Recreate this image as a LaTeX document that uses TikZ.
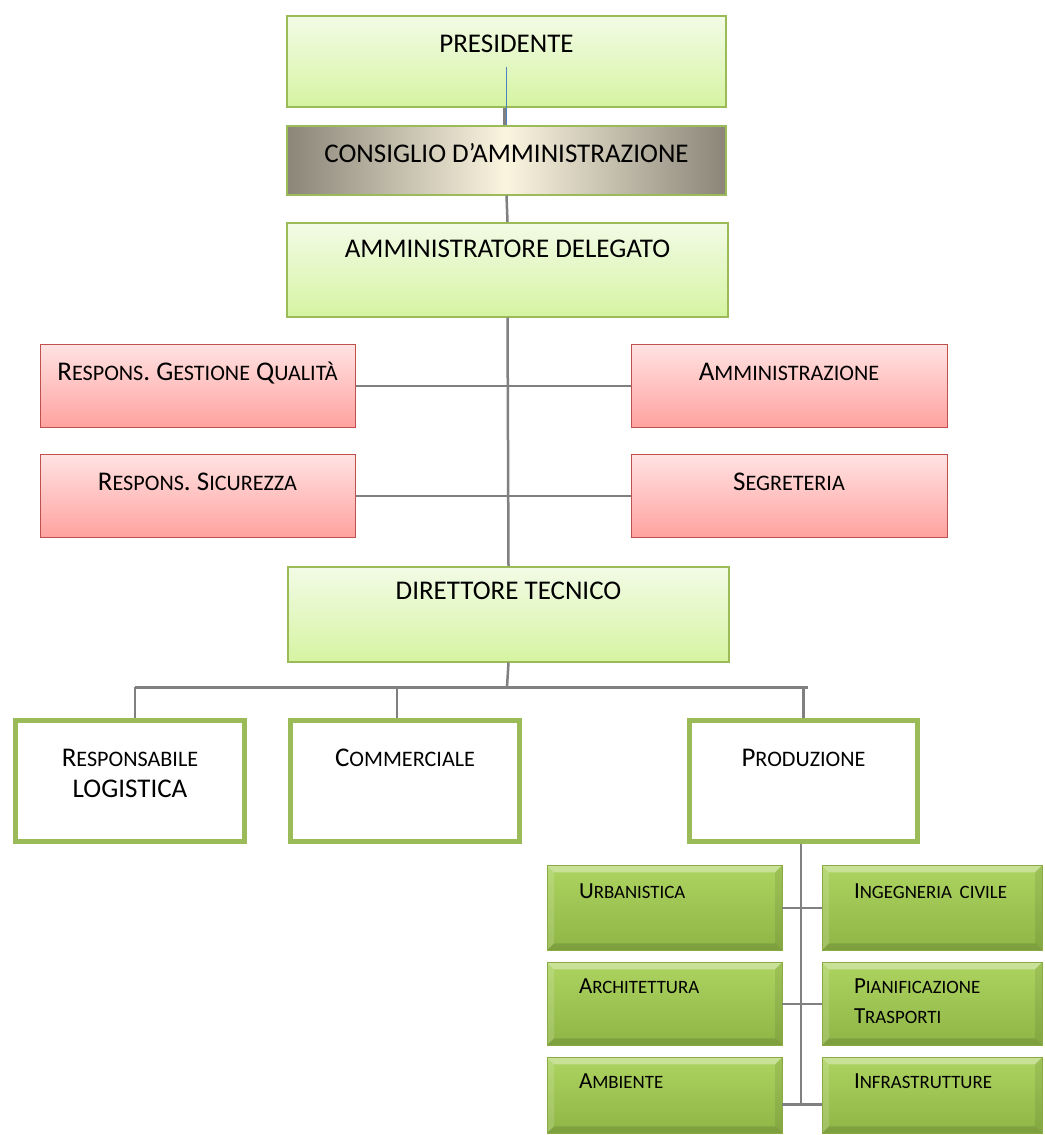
\documentclass[tikz,border=0pt]{standalone}
\usepackage{fontspec}
\setmainfont{Carlito}
\definecolor{boxgreen}{HTML}{9BBB59}
\definecolor{paletop}{HTML}{F2FBE6}
\definecolor{palebot}{HTML}{D6F4A2}
\definecolor{slate}{HTML}{8A8578}
\definecolor{cream}{HTML}{FBF4DF}
\definecolor{boxred}{HTML}{C0504D}
\definecolor{pinktop}{HTML}{FFE2E2}
\definecolor{pinkbot}{HTML}{FFA29F}
\definecolor{leaftop}{HTML}{ADD360}
\definecolor{leafbot}{HTML}{8FB546}
\definecolor{leafedge}{HTML}{8AAA48}
\definecolor{linkgrey}{HTML}{808080}
\definecolor{linkblue}{HTML}{4F81BD}
% fake small capitals (Carlito has none)
\makeatletter
\newcommand\lc[1]{{\fontsize{\fpeval{0.82*\f@size}}{0}\selectfont #1}}
\makeatother

\begin{document}
\begin{tikzpicture}[x=1pt, y=-1pt, font=\fontsize{27}{31}\selectfont]

    \tikzstyle{pale}=[draw=boxgreen, line width=1.5pt, top color=paletop, bottom color=palebot, anchor=north, inner sep=0pt]
    \tikzstyle{shade}=[draw=boxgreen, line width=1.5pt, left color=slate, right color=slate, middle color=cream, anchor=north, inner sep=0pt]
    \tikzstyle{pink}=[draw=boxred, line width=1pt, top color=pinktop, bottom color=pinkbot, anchor=north, inner sep=0pt]
    \tikzstyle{frame}=[draw=boxgreen, line width=5pt, fill=white, anchor=north, inner sep=0pt, align=center]
    \tikzstyle{leaf}=[draw=leafedge, line width=0.8pt, top color=leaftop, bottom color=leafbot, anchor=north, inner ysep=0pt, inner xsep=32pt, align=left, font=\fontsize{23}{30}\selectfont,
        path picture={
          \fill[white, opacity=.35] (path picture bounding box.north west) -- (path picture bounding box.north east)
               -- ([shift={(-7,7)}]path picture bounding box.north east) -- ([shift={(7,7)}]path picture bounding box.north west) -- cycle;
          \fill[white, opacity=.15] (path picture bounding box.north west) -- (path picture bounding box.south west)
               -- ([shift={(7,-7)}]path picture bounding box.south west) -- ([shift={(7,7)}]path picture bounding box.north west) -- cycle;
          \fill[black, opacity=.12] (path picture bounding box.south west) -- (path picture bounding box.south east)
               -- ([shift={(-7,-7)}]path picture bounding box.south east) -- ([shift={(7,-7)}]path picture bounding box.south west) -- cycle;
          \fill[black, opacity=.08] (path picture bounding box.north east) -- (path picture bounding box.south east)
               -- ([shift={(-7,-7)}]path picture bounding box.south east) -- ([shift={(-7,7)}]path picture bounding box.north east) -- cycle;
        }]
    \tikzstyle{link}=[draw=linkgrey, line width=2.5pt]

    \useasboundingbox (0,0) rectangle (1044,1135);

    % top of the chart
    \node[pale]  (pres) at (506.5,15)  [minimum width=439pt, text height=37pt, text depth=54pt] {PRESIDENTE};
    \node[shade] (cda)  at (506.5,125) [minimum width=439pt, text height=37pt, text depth=32pt] {CONSIGLIO D'AMMINISTRAZIONE};
    \node[pale]  (ad)   at (507.5,222) [minimum width=441pt, text height=35pt, text depth=59pt] {AMMINISTRATORE DELEGATO};

    % staff
    \node[pink] (rgq)  at (197.5,344) [minimum width=315pt, text height=36pt, text depth=47pt] {R\lc{ESPONS}. G\lc{ESTIONE} Q\lc{UALITÀ}};
    \node[pink] (amm)  at (789,344)   [minimum width=316pt, text height=36pt, text depth=47pt] {A\lc{MMINISTRAZIONE}};
    \node[pink] (rsic) at (197.5,454) [minimum width=315pt, text height=36pt, text depth=47pt] {R\lc{ESPONS}. S\lc{ICUREZZA}};
    \node[pink] (seg)  at (789,454)   [minimum width=316pt, text height=36pt, text depth=47pt] {S\lc{EGRETERIA}};

    \node[pale] (dt) at (508.5,566) [minimum width=441pt, text height=33pt, text depth=62pt] {DIRETTORE TECNICO};

    % areas
    \node[frame] (log)  at (130,717.5)   [minimum width=229pt, text height=77.5pt, text depth=43.5pt] {R\lc{ESPONSABILE}\\LOGISTICA};
    \node[frame] (comm) at (405,717.5)   [minimum width=229pt, text height=46.5pt, text depth=74.5pt] {C\lc{OMMERCIALE}};
    \node[frame] (prod) at (803.5,717.5) [minimum width=228pt, text height=46.5pt, text depth=74.5pt] {P\lc{RODUZIONE}};

    % production units
    \node[leaf] (urb)  at (664.5,865)  [text width=171pt, text height=33pt, text depth=52pt] {U\lc{RBANISTICA}};
    \node[leaf] (ing)  at (932,865)    [text width=156pt, text height=33pt, text depth=52pt] {I\lc{NGEGNERIA}~\lc{CIVILE}};
    \node[leaf] (arch) at (664.5,962)  [text width=171pt, text height=31pt, text depth=52pt] {A\lc{RCHITETTURA}};
    \node[leaf] (pian) at (932,962)    [text width=156pt, text height=31pt, text depth=52pt] {P\lc{IANIFICAZIONE}\\T\lc{RASPORTI}};
    \node[leaf] (amb)  at (664.5,1057) [text width=171pt, text height=31pt, text depth=45pt] {A\lc{MBIENTE}};
    \node[leaf] (inf)  at (932,1057)   [text width=156pt, text height=31pt, text depth=45pt] {I\lc{NFRASTRUTTURE}};

    \coordinate (bar)  at (507,687);
    \coordinate (stem) at (801,1104);

    \draw[link] ([xshift=-2pt]pres.south) -- ([xshift=-2pt]cda.north);
    \draw[draw=linkblue, line width=1pt] ([yshift=-6pt]pres.center) -- (cda.north);
    \draw[link] (cda.south) -- (ad.north);
    \draw[link] (ad.south) -- (dt.north);
    \draw[link] (rgq.east) -- (amm.west);
    \draw[link] (rsic.east) -- (seg.west);
    \draw[link] (dt.south) -- (bar);
    \draw[link, line width=3pt] ([xshift=5pt]log.north |- bar) -- ([xshift=4pt]prod.north |- bar);
    \draw[link] ([xshift=5pt]log.north) -- ([xshift=5pt]log.north |- bar);
    \draw[link] ([xshift=-8pt]comm.north) -- ([xshift=-8pt]comm.north |- bar);
    \draw[link] (prod.north) -- (prod.north |- bar);
    \draw[link] (prod.south -| stem) -- (stem);
    \draw[link] (urb.east) -- (ing.west);
    \draw[link] (arch.east) -- (pian.west);
    \draw[link] ([yshift=-9pt]amb.east) -- ([yshift=-9pt]inf.west);
\end{tikzpicture}
\end{document}
